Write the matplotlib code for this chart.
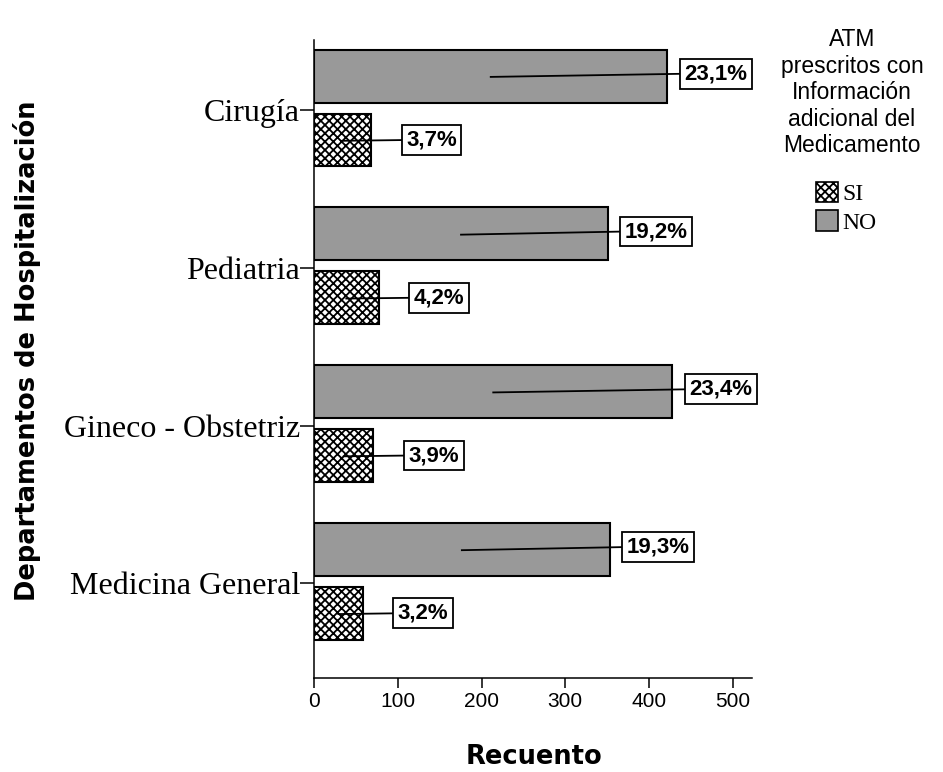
import numpy as np
import matplotlib
matplotlib.use("Agg")
import matplotlib.pyplot as plt
from matplotlib.patches import Patch
from matplotlib.transforms import Bbox, TransformedBbox

# data
categorias = ["Cirugía", "Pediatria", "Gineco - Obstetriz", "Medicina General"]
recuento_no = [422, 351, 428, 353]
recuento_si = [68, 77, 71, 58]
pct_no = ["23,1%", "19,2%", "23,4%", "19,3%"]
pct_si = ["3,7%", "4,2%", "3,9%", "3,2%"]

plt.rcParams['hatch.linewidth'] = 1.3
serif = "Liberation Serif"
sans = "Liberation Sans"

fig = plt.figure(figsize=(9.43, 7.72), dpi=100)
ax = fig.add_axes([0.333, 0.1218, 0.4645, 0.8264])

y = np.arange(len(categorias))
h = 0.335
y_no = y - 0.215
y_si = y + 0.19

ax.barh(y_no, recuento_no, height=h, color="#999999", edgecolor="black", linewidth=1.5, zorder=2)
ax.barh(y_si, recuento_si, height=h, color="white", edgecolor="black", hatch="xxxx", linewidth=1.5, zorder=2)

ax.set_xlim(0, 523)
ax.set_ylim(3.60, -0.444)

for s in ["top", "right"]:
	ax.spines[s].set_visible(False)
for s in ["left", "bottom"]:
	ax.spines[s].set_linewidth(1.1)

ax.set_xticks([0, 100, 200, 300, 400, 500])
ax.tick_params(axis="x", length=7, width=1.1, labelsize=15, pad=3)
for t in ax.get_xticklabels():
	t.set_fontfamily(sans)
ax.set_yticks(y)
ax.set_yticklabels(categorias, fontsize=23, fontfamily=serif)
ax.tick_params(axis="y", length=10, width=1.1, pad=0)

# label boxes with leader lines
clip = TransformedBbox(Bbox([[0, 0], [758 / 943, 1]]), fig.transFigure)
box = dict(boxstyle="square,pad=0.2", facecolor="white", edgecolor="black", linewidth=1.3)
for i in range(len(categorias)):
	for v, yy, lab, off, dy in [(recuento_no[i], y_no[i], pct_no[i], 20, -0.015),
	                            (recuento_si[i], y_si[i], pct_si[i], 42, 0.0)]:
		xt = v + off
		ax.plot([v / 2, xt], [yy + 0.005, yy + dy], color="black", linewidth=1.3, zorder=3, clip_on=False)
		t = ax.text(xt, yy + dy, lab, ha="left", va="center", fontsize=16, fontweight="bold",
		            fontfamily=sans, bbox=box, zorder=4, clip_on=True)
		t.set_clip_box(clip)

fig.text(534 / 943, 1 - 757 / 772, "Recuento", ha="center", va="center",
         fontsize=18.5, fontweight="bold", fontfamily="DejaVu Sans")
fig.text(27 / 943, 1 - 351 / 772, "Departamentos de Hospitalización", ha="center", va="center",
         rotation=90, fontsize=18.5, fontweight="bold", fontfamily="DejaVu Sans")

# legend: title as separate text, entries below
fig.text(852 / 943, 1 - 28 / 772, "ATM\nprescritos con\nInformación\nadicional del\nMedicamento",
         ha="center", va="top", fontsize=16.5, fontfamily=sans, linespacing=1.2)
handles = [Patch(facecolor="white", edgecolor="black", hatch="xxxx", linewidth=1.2),
           Patch(facecolor="#999999", edgecolor="black", linewidth=1.2)]
leg = fig.legend(handles, ["SI", "NO"], loc="upper left", bbox_to_anchor=(816 / 943, 1 - 182 / 772),
                 frameon=False, prop={"family": serif, "size": 17}, handlelength=0.95, handleheight=0.95,
                 handletextpad=0.15, labelspacing=0.22, borderaxespad=0, borderpad=0)

fig.savefig("out.png", dpi=100)
